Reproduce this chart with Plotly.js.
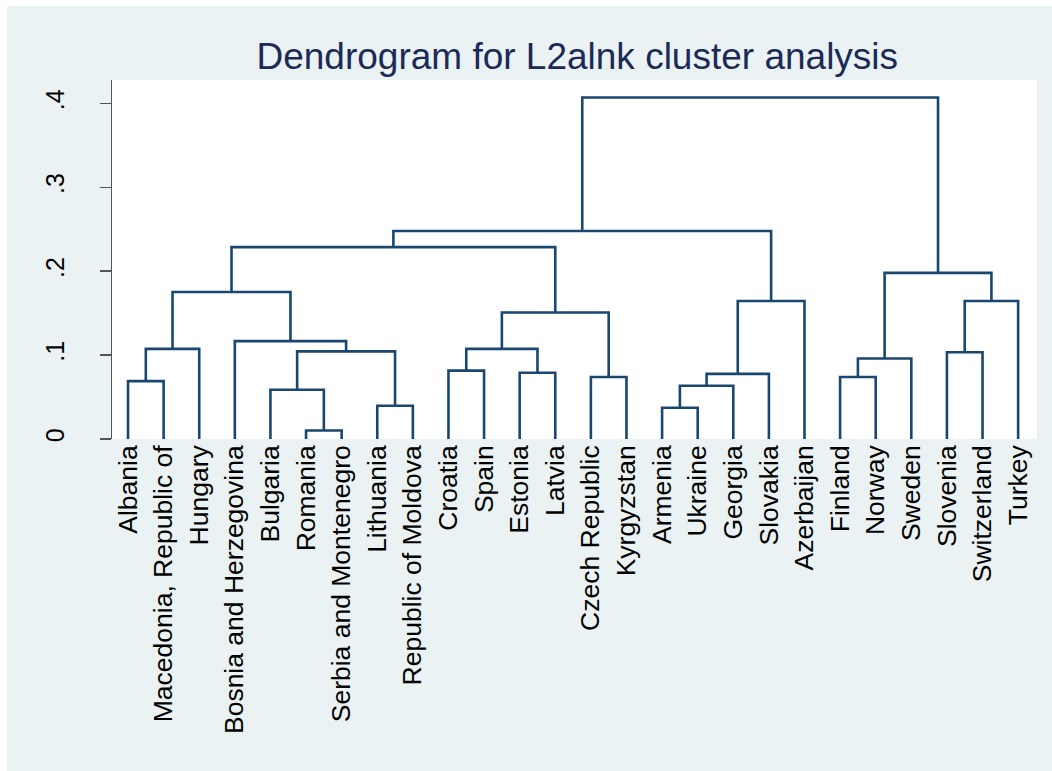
<!DOCTYPE html>
<html>
<head>
<meta charset="utf-8">
<script src="https://cdn.plot.ly/plotly-3.0.1.min.js"></script>
<style>
  html, body { margin: 0; padding: 0; background: #ffffff; width: 1052px; height: 771px; overflow: hidden; }
  #chart { position: absolute; left: 7px; top: 6px; width: 1045px; height: 765px; }
</style>
</head>
<body>
<div id="chart"></div>
<script>
// Leaves in dendrogram order
const leaves = [
  "Albania", "Macedonia, Republic of", "Hungary", "Bosnia and Herzegovina",
  "Bulgaria", "Romania", "Serbia and Montenegro", "Lithuania",
  "Republic of Moldova", "Croatia", "Spain", "Estonia", "Latvia",
  "Czech Republic", "Kyrgyzstan", "Armenia", "Ukraine", "Georgia",
  "Slovakia", "Azerbaijan", "Finland", "Norway", "Sweden",
  "Slovenia", "Switzerland", "Turkey"
];

// Linkage: ids 0..25 are leaves, merge k creates id 26+k
const mergeLeft   = [5, 15, 7, 4, 27, 0, 13, 20, 30, 11, 9, 33, 23, 29, 31, 36, 3, 41, 34, 38, 40, 37, 46, 48, 49];
const mergeRight  = [6, 16, 8, 26, 17, 1, 14, 21, 18, 12, 10, 22, 24, 28, 2, 35, 39, 32, 19, 25, 42, 45, 43, 44, 47];
const mergeHeight = [0.0102, 0.0373, 0.0397, 0.0588, 0.0634, 0.0690, 0.0740, 0.0740, 0.0776, 0.0790,
                     0.0815, 0.0960, 0.1035, 0.1045, 0.1075, 0.1075, 0.1167, 0.1508, 0.1645, 0.1645,
                     0.1753, 0.1981, 0.2288, 0.2479, 0.4071];

// Y axis ticks
const yTickVals = [0, 0.1, 0.2, 0.3, 0.4];
const yTickText = ["0", ".1", ".2", ".3", ".4"];

const titleText = "Dendrogram for L2alnk cluster analysis";

// Build node positions
const n = leaves.length;
const nodeX = leaves.map((_, i) => i);
const nodeH = leaves.map(() => 0);
const xs = [], ys = [];
for (let k = 0; k < mergeHeight.length; k++) {
  const a = mergeLeft[k], b = mergeRight[k], h = mergeHeight[k];
  xs.push(nodeX[a], nodeX[a], nodeX[b], nodeX[b], null);
  ys.push(nodeH[a], h, h, nodeH[b], null);
  nodeX[n + k] = (nodeX[a] + nodeX[b]) / 2;
  nodeH[n + k] = h;
}

const font = "Liberation Sans, Arial, Helvetica, sans-serif";

const trace = {
  type: "scatter",
  mode: "lines",
  x: xs,
  y: ys,
  connectgaps: false,
  line: { color: "#1A476F", width: 2.6 },
  hoverinfo: "skip",
  showlegend: false
};

const layout = {
  width: 1045,
  height: 765,
  paper_bgcolor: "#EAF2F3",
  plot_bgcolor: "#FFFFFF",
  margin: { l: 105, r: 15, t: 74, b: 332, pad: 0 },
  showlegend: false,
  title: {
    text: titleText,
    font: { family: font, size: 37, color: "#1b2a57" },
    xref: "paper",
    x: 0.503,
    xanchor: "center",
    yref: "container",
    y: 0.934,
    yanchor: "middle"
  },
  xaxis: {
    range: [-0.45, 25.53],
    tickmode: "array",
    tickvals: leaves.map((_, i) => i),
    ticktext: leaves,
    tickangle: -90,
    tickfont: { family: font, size: 26.5, color: "#000000" },
    ticks: "",
    showgrid: false,
    zeroline: false,
    showline: false,
    automargin: false,
    fixedrange: true
  },
  yaxis: {
    range: [0, 0.428],
    tickmode: "array",
    tickvals: yTickVals,
    ticktext: yTickText,
    tickangle: -90,
    tickfont: { family: font, size: 25, color: "#000000" },
    ticks: "outside",
    ticklen: 11,
    tickwidth: 1.5,
    tickcolor: "#555555",
    ticklabelstandoff: 26,
    showline: true,
    linecolor: "#555555",
    linewidth: 1.5,
    showgrid: false,
    zeroline: false,
    automargin: false,
    fixedrange: true
  }
};

Plotly.newPlot("chart", [trace], layout, { displayModeBar: false, staticPlot: true });
</script>
</body>
</html>
